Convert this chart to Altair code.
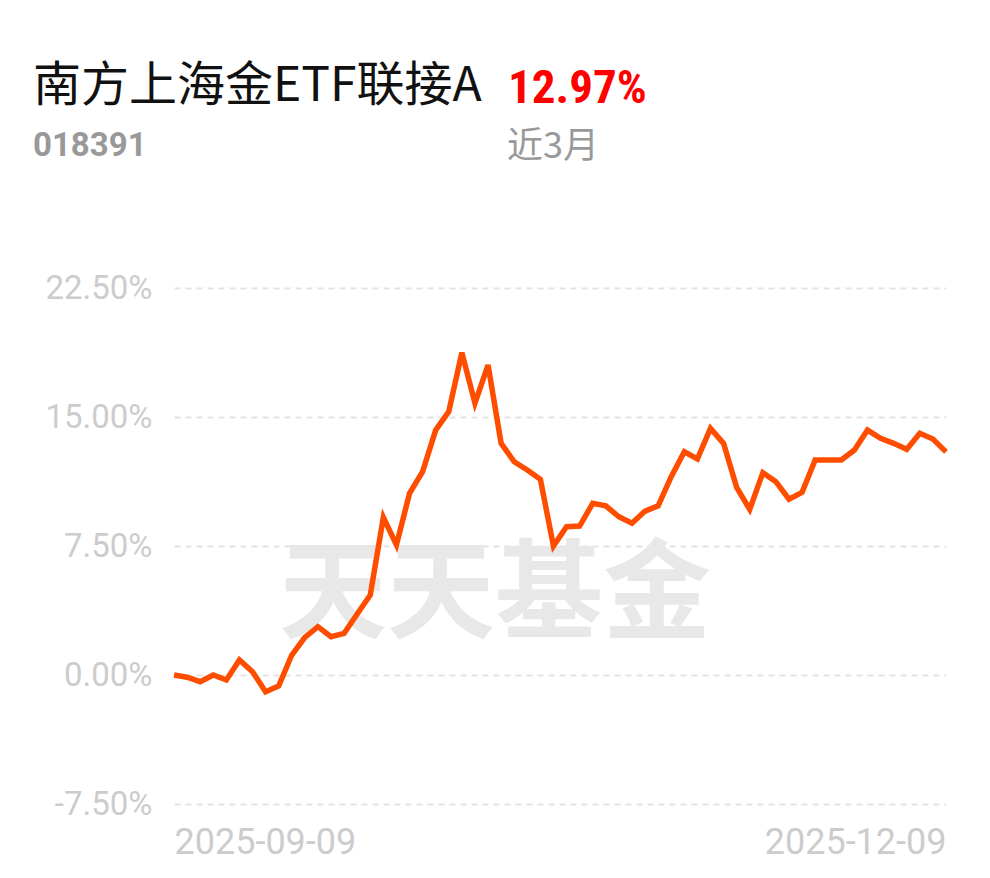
import altair as alt
import pandas as pd

# ---- data ----
returns_pct = [0.00, -0.13, -0.39, 0.00, -0.29, 0.87, 0.19, -0.97, -0.64, 1.16,
               2.19, 2.81, 2.23, 2.42, 3.55, 4.65, 9.17, 7.56, 10.56, 11.82,
               14.24, 15.31, 18.74, 15.80, 18.02, 13.47, 12.40, 11.92, 11.38, 7.50,
               8.62, 8.66, 9.98, 9.83, 9.20, 8.82, 9.53, 9.83, 11.53, 12.98,
               12.56, 14.34, 13.47, 10.91, 9.63, 11.76, 11.24, 10.22, 10.62, 12.50,
               12.50, 12.50, 13.08, 14.24, 13.76, 13.47, 13.12, 14.05, 13.72, 12.97]
x_labels = ["2025-09-09", "2025-12-09"]
y_ticks = [-7.5, 0, 7.5, 15, 22.5]
fund_name = "南方上海金ETF联接A"
fund_code = "018391"
period_return = "12.97%"
period_label = "近3月"
watermark = "天天基金"

n = len(returns_pct)
df = pd.DataFrame({"i": list(range(n)), "v": returns_pct})

W, H = 772, 516
LINE = "#ff4d00"

x_enc = alt.X("i:Q",
              scale=alt.Scale(domain=[0, n - 1], nice=False, zero=False),
              axis=alt.Axis(values=[0, n - 1], title=None, grid=False, domain=False, ticks=False,
                            labelExpr=f"datum.value == 0 ? '{x_labels[0]}' : '{x_labels[1]}'",
                            labelFlush=True, labelFont="Roboto", labelFontSize=36,
                            labelLimit=400, labelOverlap=False,
                            labelColor="#cccccc", labelPadding=21))
y_enc = alt.Y("v:Q",
              scale=alt.Scale(domain=[-7.5, 22.5], nice=False, zero=False),
              axis=alt.Axis(values=y_ticks, title=None, domain=False, ticks=False,
                            grid=True, gridColor="#e3e3e3", gridDash=[6, 5], gridWidth=2,
                            labelExpr="(datum.value < 0 ? '-' : '') + format(abs(datum.value), '.2f') + '%'",
                            labelFont="Roboto", labelFontSize=33, labelColor="#cccccc",
                            labelLimit=400, labelPadding=22))

line = alt.Chart(df).mark_line(color=LINE, strokeWidth=5.5, strokeJoin="miter").encode(x=x_enc, y=y_enc)

def txt(text, x, y, size, color, weight="normal", font="Noto Sans CJK SC", align="left"):
    return alt.Chart(pd.DataFrame({"t": [text]})).mark_text(
        align=align, baseline="alphabetic", fontSize=size, color=color,
        fontWeight=weight, font=font
    ).encode(text="t:N", x=alt.value(x), y=alt.value(y))

wm = txt(watermark, 321, 342, 108, "#e8e8e8", weight="bold", align="center")
t1 = txt(fund_name, -141, -187, 48, "#111111")
t2 = txt(period_return, 334, -185, 47, "#ff0000", weight="bold",
         font='"Liberation Sans Narrow", "Roboto Condensed", Roboto')
t3 = txt(fund_code, -141, -132, 33, "#999999", weight="bold", font="Roboto")
t4 = txt(period_label, 333, -130, 36, "#999999")

chart = alt.layer(wm, line, t1, t2, t3, t4).properties(
    width=W, height=H,
    autosize=alt.AutoSizeParams(type="none"),
    padding={"left": 166, "top": 280, "right": 20, "bottom": 70},
    background="white",
).configure_view(stroke=None)

chart.save("out.html", embed_options={"renderer": "svg", "actions": False})
